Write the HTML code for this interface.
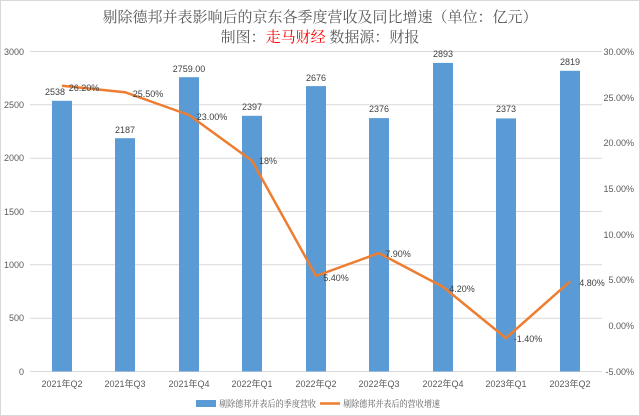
<!DOCTYPE html><html><head><meta charset="utf-8"><style>body{margin:0;background:#fff}svg{display:block}</style></head><body>
<svg width="640" height="416" xmlns="http://www.w3.org/2000/svg" font-family="Liberation Sans, Noto Sans CJK SC, sans-serif">
<rect x="0.5" y="0.5" width="639" height="415" fill="#fff" stroke="#d9d9d9"/>
<g font-family="Liberation Serif, Noto Serif CJK SC, serif" font-size="15" fill="#595959" text-anchor="middle">
<text x="320" y="22">剔除德邦并表影响后的京东各季度营收及同比增速（单位：亿元）</text>
<text x="320" y="42">制图：<tspan fill="#ff0000">走马财经</tspan>  数据源：财报</text>
</g>
<g stroke="#d9d9d9" stroke-width="1">
<line x1="30" x2="602" y1="51.5" y2="51.5"/><line x1="30" x2="602" y1="104.8" y2="104.8"/><line x1="30" x2="602" y1="158.2" y2="158.2"/><line x1="30" x2="602" y1="211.5" y2="211.5"/><line x1="30" x2="602" y1="264.8" y2="264.8"/><line x1="30" x2="602" y1="318.2" y2="318.2"/><line x1="30" x2="602" y1="371.5" y2="371.5"/>
</g>
<g font-size="9" fill="#595959" text-anchor="end">
<text x="24" y="55">3000</text><text x="24" y="108">2500</text><text x="24" y="161">2000</text><text x="24" y="215">1500</text><text x="24" y="268">1000</text><text x="24" y="321">500</text><text x="24" y="375">0</text>
</g>
<g font-size="9" fill="#595959" text-anchor="end">
<text x="634" y="55">30.00%</text><text x="634" y="101">25.00%</text><text x="634" y="146">20.00%</text><text x="634" y="192">15.00%</text><text x="634" y="238">10.00%</text><text x="634" y="283">5.00%</text><text x="634" y="329">0.00%</text><text x="634" y="375">-5.00%</text>
</g>
<g fill="#5b9bd5">
<rect x="52" y="100.8" width="20" height="270.7"/>
<rect x="115" y="138.2" width="20" height="233.3"/>
<rect x="179" y="77.2" width="20" height="294.3"/>
<rect x="242" y="115.8" width="20" height="255.7"/>
<rect x="306" y="86.1" width="20" height="285.4"/>
<rect x="369" y="118.1" width="20" height="253.4"/>
<rect x="433" y="62.9" width="20" height="308.6"/>
<rect x="496" y="118.4" width="20" height="253.1"/>
<rect x="560" y="70.8" width="20" height="300.7"/>
</g>
<polyline fill="none" stroke="#ed7d31" stroke-width="2.5" stroke-linejoin="round" points="62,85.8 125,92.2 189,115.0 252,160.7 316,276.0 379,253.1 443,286.9 506,338.1 570,281.4"/>
<g font-size="9" fill="#404040" text-anchor="middle">
<text x="55" y="95">2538</text><text x="84" y="91">26.20%</text>
<text x="125" y="133">2187</text><text x="148" y="97">25.50%</text>
<text x="189" y="72">2759.00</text><text x="212" y="120">23.00%</text>
<text x="252" y="110">2397</text><text x="268" y="164">18%</text>
<text x="316" y="81">2676</text><text x="336" y="281">5.40%</text>
<text x="379" y="112">2376</text><text x="398" y="257">7.90%</text>
<text x="443" y="57">2893</text><text x="462" y="292">4.20%</text>
<text x="506" y="112">2373</text><text x="528" y="342">-1.40%</text>
<text x="570" y="65">2819</text><text x="592" y="286">4.80%</text>
</g>
<g font-size="9" fill="#595959" text-anchor="middle">
<text x="62" y="387">2021年Q2</text><text x="125" y="387">2021年Q3</text><text x="189" y="387">2021年Q4</text><text x="252" y="387">2022年Q1</text><text x="316" y="387">2022年Q2</text><text x="379" y="387">2022年Q3</text><text x="443" y="387">2022年Q4</text><text x="506" y="387">2023年Q1</text><text x="570" y="387">2023年Q2</text>
</g>
<rect x="196" y="400" width="20" height="7" fill="#5b9bd5"/>
<text x="219" y="407" font-size="9" fill="#595959" textLength="97" lengthAdjust="spacingAndGlyphs" font-family="Liberation Serif, Noto Serif CJK SC, serif">剔除德邦并表后的季度营收</text>
<line x1="320" x2="340" y1="403.5" y2="403.5" stroke="#ed7d31" stroke-width="2.5"/>
<text x="343" y="407" font-size="9" fill="#595959" textLength="97" lengthAdjust="spacingAndGlyphs" font-family="Liberation Serif, Noto Serif CJK SC, serif">剔除德邦并表后的营收增速</text>
</svg>
</body></html>
